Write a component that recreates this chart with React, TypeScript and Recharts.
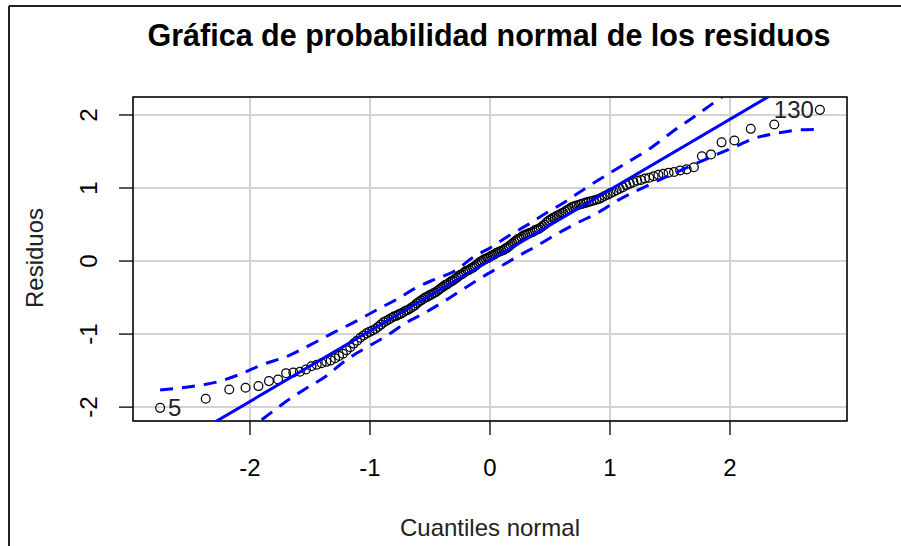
import React from 'react';
import { ScatterChart, Scatter, XAxis, YAxis, CartesianGrid, ReferenceArea } from 'recharts';

// theoretical normal quantiles (n = 168)
const quantiles = [
  -2.749, -2.369, -2.173, -2.037, -1.93, -1.842, -1.766, -1.699, -1.639, -1.584,
  -1.534, -1.488, -1.444, -1.403, -1.364, -1.327, -1.291, -1.258, -1.226, -1.195,
  -1.165, -1.136, -1.108, -1.081, -1.055, -1.029, -1.004, -0.98, -0.956, -0.932,
  -0.909, -0.887, -0.865, -0.844, -0.822, -0.802, -0.781, -0.761, -0.742, -0.722,
  -0.703, -0.684, -0.665, -0.647, -0.628, -0.61, -0.593, -0.575, -0.557, -0.54,
  -0.523, -0.506, -0.489, -0.472, -0.456, -0.439, -0.423, -0.406, -0.39, -0.374,
  -0.358, -0.342, -0.326, -0.311, -0.295, -0.279, -0.264, -0.248, -0.233, -0.218,
  -0.202, -0.187, -0.172, -0.157, -0.142, -0.127, -0.112, -0.097, -0.082, -0.067,
  -0.052, -0.037, -0.022, -0.007,
  0.007, 0.022, 0.037, 0.052, 0.067, 0.082, 0.097, 0.112, 0.127, 0.142,
  0.157, 0.172, 0.187, 0.202, 0.218, 0.233, 0.248, 0.264, 0.279, 0.295,
  0.311, 0.326, 0.342, 0.358, 0.374, 0.39, 0.406, 0.423, 0.439, 0.456,
  0.472, 0.489, 0.506, 0.523, 0.54, 0.557, 0.575, 0.593, 0.61, 0.628,
  0.647, 0.665, 0.684, 0.703, 0.722, 0.742, 0.761, 0.781, 0.802, 0.822,
  0.844, 0.865, 0.887, 0.909, 0.932, 0.956, 0.98, 1.004, 1.029, 1.055,
  1.081, 1.108, 1.136, 1.165, 1.195, 1.226, 1.258, 1.291, 1.327, 1.364,
  1.403, 1.444, 1.488, 1.534, 1.584, 1.639, 1.699, 1.766, 1.842, 1.93,
  2.037, 2.173, 2.369, 2.749,
];

// ordered residuals
const residuals = [
  -2.01, -1.885, -1.758, -1.735, -1.712, -1.644, -1.621, -1.535, -1.525, -1.515,
  -1.484, -1.44, -1.42, -1.4, -1.38, -1.36, -1.33, -1.3, -1.27, -1.22,
  -1.18, -1.13, -1.09, -1.05, -1.02, -0.99, -0.97, -0.95, -0.93, -0.9,
  -0.87, -0.84, -0.82, -0.8, -0.78, -0.76, -0.75, -0.73, -0.72, -0.7,
  -0.68, -0.67, -0.65, -0.63, -0.61, -0.58, -0.56, -0.54, -0.52, -0.5,
  -0.49, -0.47, -0.46, -0.44, -0.43, -0.41, -0.39, -0.37, -0.35, -0.33,
  -0.32, -0.3, -0.28, -0.27, -0.25, -0.23, -0.21, -0.19, -0.18, -0.16,
  -0.14, -0.13, -0.12, -0.1, -0.09, -0.07, -0.05, -0.03, -0.01, 0.0,
  0.02, 0.03, 0.04, 0.05, 0.07, 0.08, 0.09, 0.11, 0.12, 0.13,
  0.14, 0.15, 0.17, 0.18, 0.2, 0.22, 0.24, 0.26, 0.28, 0.3,
  0.31, 0.33, 0.35, 0.36, 0.37, 0.38, 0.39, 0.4, 0.42, 0.43,
  0.44, 0.46, 0.48, 0.5, 0.53, 0.55, 0.57, 0.59, 0.6, 0.62,
  0.63, 0.65, 0.66, 0.68, 0.7, 0.72, 0.74, 0.75, 0.76, 0.77,
  0.78, 0.79, 0.8, 0.81, 0.82, 0.83, 0.84, 0.85, 0.87, 0.89,
  0.91, 0.93, 0.95, 0.97, 0.99, 1.01, 1.04, 1.06, 1.08, 1.1,
  1.11, 1.13, 1.14, 1.16, 1.18, 1.195, 1.21, 1.22, 1.24, 1.255,
  1.285, 1.435, 1.46, 1.625, 1.65, 1.81, 1.87, 2.07,
];

// observation ids shown next to the extreme points
const idLabels: Record<number, string> = { 0: '5', 167: '130' };

// confidence envelope
const upperX = [-2.749, -2.5, -2.28, -2.088, -1.894, -1.686, -1.49, -1.297, -1.131, -0.95, -0.77, -0.617, -0.465, -0.298, -0.146, 0.021, 0.174, 0.326, 0.479, 0.645, 0.798, 0.965, 1.159, 1.34, 1.506, 1.686, 1.881, 2.0];
const upperY = [-1.767, -1.72, -1.658, -1.553, -1.416, -1.302, -1.142, -0.974, -0.837, -0.673, -0.517, -0.367, -0.253, -0.14, 0.044, 0.202, 0.363, 0.509, 0.668, 0.83, 1.0, 1.17, 1.365, 1.549, 1.754, 1.959, 2.186, 2.33];
const lowerX = [-2.05, -1.88, -1.714, -1.547, -1.367, -1.2, -1.033, -0.867, -0.7, -0.534, -0.381, -0.229, -0.076, 0.091, 0.243, 0.41, 0.562, 0.729, 0.895, 1.076, 1.242, 1.603, 2.019, 2.214, 2.408, 2.63, 2.749];
const lowerY = [-2.35, -2.145, -1.94, -1.758, -1.576, -1.357, -1.187, -1.029, -0.845, -0.7, -0.55, -0.39, -0.23, -0.071, 0.075, 0.226, 0.376, 0.523, 0.659, 0.841, 0.978, 1.252, 1.549, 1.685, 1.754, 1.799, 1.8];

// reference line
const fitX = [-3, 3];
const fitY = [-2.888, 2.908];

const xTicks = [-2, -1, 0, 1, 2];
const yTicks = [-2, -1, 0, 1, 2];
const xDomain = [-2.975, 2.975];
const yDomain = [-2.19, 2.246];

const points = quantiles.map((x, i) => ({ x, y: residuals[i], label: idLabels[i] }));
const upper = upperX.map((x, i) => ({ x, y: upperY[i] }));
const lower = lowerX.map((x, i) => ({ x, y: lowerY[i] }));
const fit = fitX.map((x, i) => ({ x, y: fitY[i] }));

const font = '"Liberation Sans", Arial, sans-serif';
const BLUE = '#0000ff';

const OpenCircle = (props: any) => {
  const { cx, cy, payload } = props;
  const label = payload && payload.label;
  const left = payload && payload.x < 0;
  return (
    <g>
      <circle cx={cx} cy={cy} r={4.4} fill="none" stroke="#000" strokeWidth={1.25} />
      {label && (
        <text
          x={left ? cx + 8 : cx - 6}
          y={cy + 8.5}
          textAnchor={left ? 'start' : 'end'}
          fontSize={24}
          fontFamily={font}
          fill="#222"
        >
          {label}
        </text>
      )}
    </g>
  );
};

const NoDot = () => <g />;

const YTick = ({ x, y, payload }: any) => (
  <text
    x={x - 22}
    y={y}
    transform={`rotate(-90, ${x - 22}, ${y})`}
    textAnchor="middle"
    fontSize={24}
    fontFamily={font}
    fill="#000"
  >
    {payload.value}
  </text>
);

const XTick = ({ x, y, payload }: any) => (
  <text x={x} y={y + 41} textAnchor="middle" fontSize={24} fontFamily={font} fill="#000">
    {payload.value}
  </text>
);

const App: React.FC = () => {
  return (
    <div style={{ position: 'absolute', left: 0, top: 0, width: 901, height: 546, background: '#fff', overflow: 'hidden' }}>
      <ScatterChart width={901} height={546} margin={{ top: 97, right: 54, bottom: 0, left: 0 }}>
        <CartesianGrid stroke="#d3d3d3" strokeWidth={2} />
        <XAxis
          type="number"
          dataKey="x"
          domain={xDomain}
          ticks={xTicks}
          allowDataOverflow
          height={125}
          axisLine={false}
          tickSize={14}
          tickMargin={0}
          tickLine={{ stroke: '#000', strokeWidth: 1.3 }}
          tick={<XTick />}
        />
        <YAxis
          type="number"
          dataKey="y"
          domain={yDomain}
          ticks={yTicks}
          allowDataOverflow
          width={133}
          axisLine={false}
          tickSize={14}
          tickMargin={0}
          tickLine={{ stroke: '#000', strokeWidth: 1.3 }}
          tick={<YTick />}
        />
        <Scatter data={points} shape={<OpenCircle />} isAnimationActive={false} />
        <Scatter
          data={fit}
          shape={<NoDot />}
          line={{ stroke: BLUE, strokeWidth: 3 }}
          isAnimationActive={false}
        />
        <Scatter
          data={upper}
          shape={<NoDot />}
          line={{ stroke: BLUE, strokeWidth: 3, strokeDasharray: '13 9' }}
          lineJointType="monotoneX"
          isAnimationActive={false}
        />
        <Scatter
          data={lower}
          shape={<NoDot />}
          line={{ stroke: BLUE, strokeWidth: 3, strokeDasharray: '13 9' }}
          lineJointType="monotoneX"
          isAnimationActive={false}
        />
        <ReferenceArea
          x1={xDomain[0]}
          x2={xDomain[1]}
          y1={yDomain[0]}
          y2={yDomain[1]}
          fill="none"
          fillOpacity={0}
          stroke="#000"
          strokeWidth={1.5}
          strokeOpacity={1}
        />
      </ScatterChart>
      <svg
        width={901}
        height={546}
        style={{ position: 'absolute', left: 0, top: 0, pointerEvents: 'none' }}
      >
        <line x1={9} y1={6} x2={901} y2={6} stroke="#222" strokeWidth={2} />
        <line x1={9} y1={6} x2={9} y2={546} stroke="#222" strokeWidth={2} />
        <text x={489} y={46} textAnchor="middle" fontSize={30.5} fontWeight="bold" fontFamily={font} fill="#000">
          Gráfica de probabilidad normal de los residuos
        </text>
        <text x={490} y={536} textAnchor="middle" fontSize={24} fontFamily={font} fill="#222">
          Cuantiles normal
        </text>
        <text
          x={43}
          y={258}
          transform="rotate(-90, 43, 258)"
          textAnchor="middle"
          fontSize={24}
          fontFamily={font}
          fill="#222"
        >
          Residuos
        </text>
      </svg>
    </div>
  );
};

export default App;
